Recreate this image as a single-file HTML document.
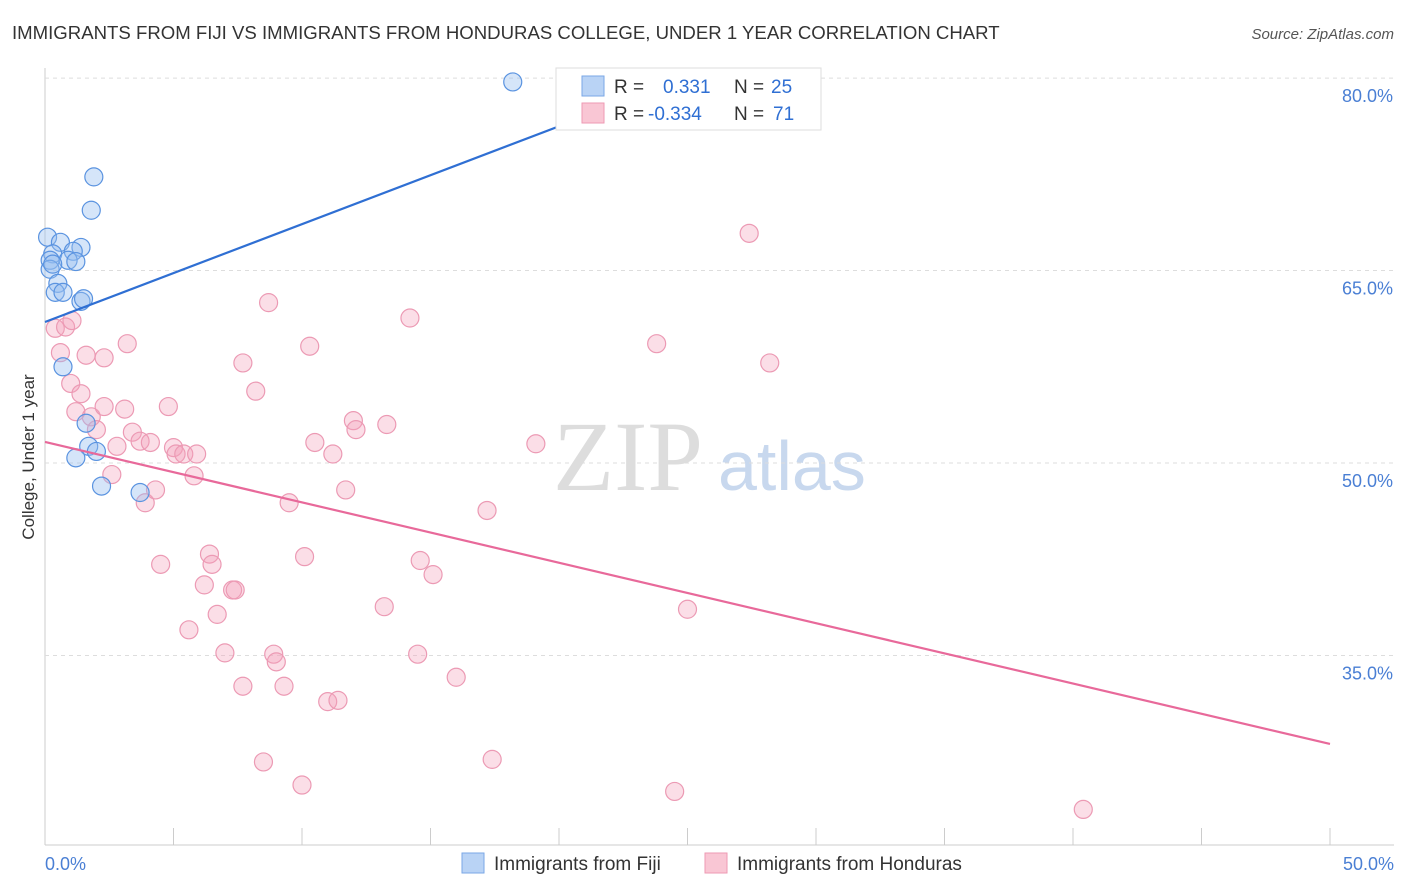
<!DOCTYPE html>
<html><head><meta charset="utf-8"><style>
body{margin:0;background:#fff;font-family:"Liberation Sans",sans-serif;}
svg{display:block}
</style></head><body>
<svg id="c" width="1406" height="892">
<text x="12" y="39" font-size="18.6" fill="#333">IMMIGRANTS FROM FIJI VS IMMIGRANTS FROM HONDURAS COLLEGE, UNDER 1 YEAR CORRELATION CHART</text>
<text x="1394" y="39" font-size="15" fill="#555" font-style="italic" text-anchor="end">Source: ZipAtlas.com</text>
<text x="34" y="457" font-size="17" fill="#333" text-anchor="middle" transform="rotate(-90 34 457)">College, Under 1 year</text>
<text x="553" y="490" font-size="100" fill="#ddd" font-family="Liberation Serif,serif">ZIP</text>
<text x="718" y="490" font-size="70" fill="#c8d8ee">atlas</text>
<g id="grid"></g><g id="pts"></g><g id="lines"></g>
<g id="legend">
<rect x="556" y="68" width="265" height="62" fill="#fff" stroke="#ddd"/>
<rect x="582" y="76" width="22" height="20" fill="#b9d3f5" stroke="#7aa7e6"/>
<rect x="582" y="103" width="22" height="20" fill="#f9c6d4" stroke="#ee9ab3"/>
<text x="614" y="93" font-size="19" fill="#333">R = <tspan fill="#2f6fd3" x="663">0.331</tspan><tspan fill="#333" x="734">N = </tspan><tspan fill="#2f6fd3" x="771">25</tspan></text>
<text x="614" y="120" font-size="19" fill="#333">R = <tspan fill="#2f6fd3" x="648">-0.334</tspan><tspan fill="#333" x="734">N = </tspan><tspan fill="#2f6fd3" x="773">71</tspan></text>
</g>
<g>
<rect x="462" y="853" width="22" height="20" fill="#b9d3f5" stroke="#7aa7e6"/>
<text x="494" y="870" font-size="19" fill="#333">Immigrants from Fiji</text>
<rect x="705" y="853" width="22" height="20" fill="#f9c6d4" stroke="#ee9ab3"/>
<text x="737" y="870" font-size="19" fill="#333">Immigrants from Honduras</text>
</g>
</svg>
<script>
const yTicks=[80,65,50,35];
const xTickLabels=["0.0%","50.0%"];
const fijiX=[18.2,1.9,1.8,0.1,0.6,1.4,0.3,1.1,0.9,1.2,0.2,0.2,0.5,0.4,0.7,1.4,1.5,0.7,1.6,1.7,1.2,2.0,2.2,3.7,0.3];
const fijiY=[79.7,72.3,69.7,67.6,67.2,66.8,66.3,66.5,65.8,65.7,65.8,65.1,64.0,63.3,63.3,62.6,62.8,57.5,53.1,51.3,50.4,50.9,48.2,47.7,65.5];
const honX=[0.4,0.8,0.6,1.6,2.3,3.2,1.0,1.4,1.2,1.8,2.3,3.1,2.0,3.4,2.8,3.7,4.1,4.8,5.0,5.1,5.4,5.9,2.6,3.9,4.3,5.8,4.5,5.6,6.2,6.4,6.5,6.7,7.0,7.3,7.4,7.7,7.7,8.2,8.5,8.7,8.9,9.0,9.3,9.5,10.0,10.1,10.3,10.5,11.2,11.0,11.4,11.7,12.0,12.1,13.2,13.3,14.2,14.5,14.6,15.1,16.0,17.2,17.4,19.1,23.8,24.5,25.0,27.4,28.2,40.4,1.05];
const honY=[60.5,60.6,58.6,58.4,58.2,59.3,56.2,55.4,54.0,53.6,54.4,54.2,52.6,52.4,51.3,51.7,51.6,54.4,51.2,50.7,50.7,50.7,49.1,46.9,47.9,49.0,42.1,37.0,40.5,42.9,42.1,38.2,35.2,40.1,40.1,32.6,57.8,55.6,26.7,62.5,35.1,34.5,32.6,46.9,24.9,42.7,59.1,51.6,50.7,31.4,31.5,47.9,53.3,52.6,38.8,53.0,61.3,35.1,42.4,41.3,33.3,46.3,26.9,51.5,59.3,24.4,38.6,67.9,57.8,23.0,61.1];
const fijiLine=[60.99,76.7,20.6];
const honLine=[51.64,28.1];
const X=v=>45+v/50*1285, Y=v=>463-(v-50)*12.83;
const ns="http://www.w3.org/2000/svg";
function mk(t,a,p){const e=document.createElementNS(ns,t);for(const k in a)e.setAttribute(k,a[k]);p.appendChild(e);return e;}
const g=document.getElementById('grid');
mk('line',{x1:45,y1:68,x2:45,y2:845,stroke:'#ccc'},g);
mk('line',{x1:45,y1:845,x2:1394,y2:845,stroke:'#ccc'},g);
for(let i=0;i<=10;i++){mk('line',{x1:X(i*5),y1:828,x2:X(i*5),y2:845,stroke:'#ccc'},g);}
yTicks.forEach(v=>{
const l=mk('line',{x1:45,y1:Y(v),x2:1394,y2:Y(v),stroke:'#ddd','stroke-dasharray':'4,4'},g);


const t=mk('text',{x:1393,y:Y(v)+24,'font-size':18,fill:'#4a7fd4','text-anchor':'end'},g);t.textContent=v.toFixed(1)+'%';


});
[[0,'start',45],[1,'end',1394]].forEach(([i,a,x])=>{const t=mk('text',{x:x,y:870,'font-size':18,fill:'#4a7fd4','text-anchor':a},g);t.textContent=xTickLabels[i];

});
const p=document.getElementById('pts');
honX.forEach((x,i)=>{const c=mk('circle',{cx:X(x),cy:Y(honY[i]),r:9,fill:'rgba(244,160,186,0.35)',stroke:'#ec9ab4','stroke-width':1.2},p);

});
fijiX.forEach((x,i)=>{const c=mk('circle',{cx:X(x),cy:Y(fijiY[i]),r:9,fill:'rgba(150,190,240,0.4)',stroke:'#5a93e0','stroke-width':1.2},p);

});
const L=document.getElementById('lines');
const s=(fijiLine[1]-fijiLine[0])/fijiLine[2];
const b=mk('line',{x1:X(0),y1:Y(fijiLine[0]),x2:X(24),y2:Y(fijiLine[0]+s*24),stroke:'#2f6fd3','stroke-width':2.2},L);


const h=mk('line',{x1:X(0),y1:Y(honLine[0]),x2:X(50),y2:Y(honLine[1]),stroke:'#e8699a','stroke-width':2.2},L);


document.getElementById('c').appendChild(document.getElementById('legend'));
</script>
</body></html>
